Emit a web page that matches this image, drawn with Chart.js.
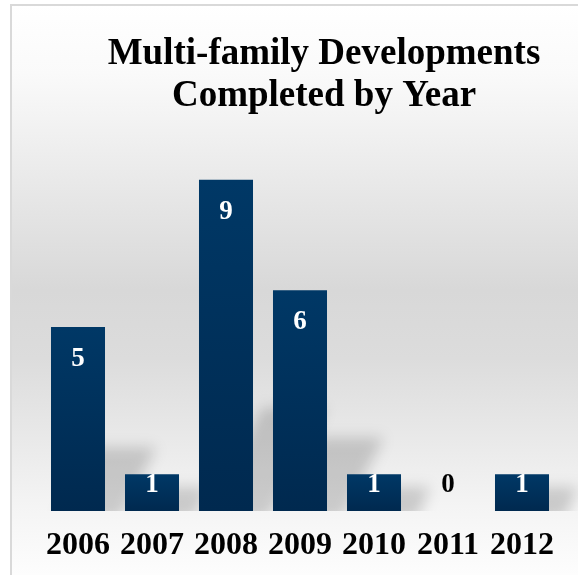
<!DOCTYPE html>
<html>
<head>
<meta charset="utf-8">
<script src="https://cdn.jsdelivr.net/npm/chart.js@4"></script>
<style>
  html, body { margin: 0; padding: 0; background: #ffffff; }
  #wrap { width: 578px; height: 575px; }
</style>
</head>
<body>
<div id="wrap"><canvas id="chart" width="578" height="575"></canvas></div>
<script>
// Completed multi-family developments per year
const years = ['2006', '2007', '2008', '2009', '2010', '2011', '2012'];
const completed = [5, 1, 9, 6, 1, 0, 1];
const titleLines = ['Multi-family Developments', 'Completed by Year'];

const SERIF = '"Liberation Serif", "Times New Roman", serif';

// Framed panel with a soft vertical grey gradient
const backdrop = {
  id: 'backdrop',
  beforeDraw(chart) {
    const { ctx, width, height } = chart;
    ctx.save();
    ctx.fillStyle = '#ffffff';
    ctx.fillRect(0, 0, width, height);
    const g = ctx.createLinearGradient(0, 5, 0, height);
    g.addColorStop(0, '#ffffff');
    g.addColorStop(0.12, '#fafafa');
    g.addColorStop(0.5, '#d8d8d8');
    g.addColorStop(0.62, '#dcdcdc');
    g.addColorStop(0.88, '#f4f4f4');
    g.addColorStop(1, '#fdfdfd');
    ctx.fillStyle = g;
    ctx.fillRect(11, 5, width - 11, height - 5);
    ctx.strokeStyle = '#d9d9d9';
    ctx.lineWidth = 2;
    ctx.beginPath();
    ctx.moveTo(11, height);
    ctx.lineTo(11, 5);
    ctx.lineTo(width, 5);
    ctx.stroke();
    ctx.restore();
  }
};

// Soft slanted shadow cast behind each column
const barShadows = {
  id: 'barShadows',
  beforeDatasetsDraw(chart) {
    const { ctx, chartArea } = chart;
    const meta = chart.getDatasetMeta(0);
    ctx.save();
    ctx.beginPath();
    ctx.rect(0, chartArea.top, chart.width, chartArea.bottom - chartArea.top);
    ctx.clip();
    ctx.filter = 'blur(7px)';
    ctx.fillStyle = 'rgba(0,0,0,0.17)';
    meta.data.forEach((el) => {
      const H = el.base - el.y;
      if (H <= 0) return;
      const L = el.x - el.width / 2;
      const R = el.x + el.width / 2;
      const h = 0.27 * H + 14;
      const k = 0.55 * h;
      ctx.beginPath();
      ctx.moveTo(L + 6, el.base + 8);
      ctx.lineTo(R + 16, el.base + 8);
      ctx.lineTo(R + 16 + k, el.base - h);
      ctx.lineTo(L + 6 + k, el.base - h);
      ctx.closePath();
      ctx.fill();
    });
    ctx.restore();
  }
};

// Value labels near the top of each column
const valueLabels = {
  id: 'valueLabels',
  afterDatasetsDraw(chart) {
    const { ctx } = chart;
    const meta = chart.getDatasetMeta(0);
    const values = chart.data.datasets[0].data;
    ctx.save();
    ctx.font = 'bold 27px ' + SERIF;
    ctx.textAlign = 'center';
    ctx.textBaseline = 'alphabetic';
    meta.data.forEach((el, i) => {
      const H = el.base - el.y;
      const baseline = Math.min(el.y + 39, el.base - 19);
      ctx.fillStyle = H >= 19 ? '#ffffff' : '#000000';
      ctx.fillText(String(values[i]), el.x, baseline);
    });
    ctx.restore();
  }
};

// Two-line heading
const heading = {
  id: 'heading',
  afterDraw(chart) {
    const { ctx } = chart;
    ctx.save();
    ctx.font = 'bold 37px ' + SERIF;
    ctx.fillStyle = '#000000';
    ctx.textAlign = 'center';
    ctx.textBaseline = 'alphabetic';
    ctx.fillText(titleLines[0], 324, 64);
    ctx.fillText(titleLines[1], 324, 106);
    ctx.restore();
  }
};

function barFill(context) {
  const chart = context.chart;
  const y = chart.scales && chart.scales.y;
  if (!y || context.type !== 'data') return '#003360';
  const top = y.getPixelForValue(context.raw);
  const bottom = y.getPixelForValue(0);
  if (!isFinite(top) || !isFinite(bottom) || bottom - top < 1) return '#003360';
  const g = chart.ctx.createLinearGradient(0, top, 0, bottom);
  g.addColorStop(0, '#003866');
  g.addColorStop(1, '#00294f');
  return g;
}

new Chart(document.getElementById('chart'), {
  type: 'bar',
  data: {
    labels: years,
    datasets: [{
      data: completed,
      backgroundColor: barFill,
      borderWidth: 0,
      categoryPercentage: 1,
      barPercentage: 0.73
    }]
  },
  options: {
    responsive: false,
    animation: false,
    devicePixelRatio: 1,
    layout: { padding: { left: 41, right: 19, top: 143, bottom: -6 } },
    plugins: {
      legend: { display: false },
      title: { display: false },
      tooltip: { enabled: false }
    },
    scales: {
      x: {
        grid: { display: false, drawTicks: false },
        border: { display: false },
        ticks: {
          color: '#000000',
          padding: 19,
          maxRotation: 0,
          font: { family: SERIF, size: 32, weight: 'bold', lineHeight: 1 }
        }
      },
      y: {
        display: false,
        min: 0,
        max: 10
      }
    }
  },
  plugins: [backdrop, barShadows, valueLabels, heading]
});
</script>
</body>
</html>
